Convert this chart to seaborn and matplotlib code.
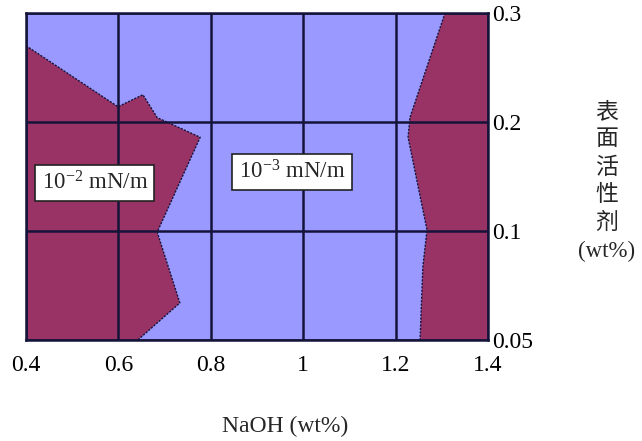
import matplotlib
matplotlib.use("Agg")
import matplotlib.pyplot as plt
import seaborn as sns
import pandas as pd

# ---- data ----
x_ticks = [0.4, 0.6, 0.8, 1.0, 1.2, 1.4]
x_tick_labels = ["0.4", "0.6", "0.8", "1", "1.2", "1.4"]
y_tick_labels = ["0.05", "0.1", "0.2", "0.3"]   # equally spaced categories
y_positions = [0, 1, 2, 3]

# left (10^-2 mN/m) region boundary: NaOH, surfactant position
left_x = [0.400, 0.599, 0.653, 0.684, 0.777, 0.684, 0.733, 0.642]
left_y = [2.70, 2.14, 2.25, 2.04, 1.86, 0.99, 0.34, 0.00]

# right region boundary
right_x = [1.307, 1.231, 1.227, 1.268, 1.259, 1.253]
right_y = [3.00, 2.04, 1.86, 1.01, 0.67, 0.00]

labels = ["10$^{-2}$ mN/m", "10$^{-3}$ mN/m"]
label_x = [0.549, 0.976]
label_y = [1.44, 1.54]

blue = "#9999FF"
maroon = "#993366"
dark = "#14143a"

sns.set_theme(style="white")
plt.rcParams["font.family"] = ["Liberation Serif", "Noto Sans CJK SC"]
plt.rcParams["mathtext.fontset"] = "custom"
plt.rcParams["mathtext.rm"] = "Liberation Serif"
plt.rcParams["mathtext.it"] = "Liberation Serif:italic"
plt.rcParams["mathtext.default"] = "regular"

fig = plt.figure(figsize=(6.42, 4.41), dpi=100)
ax = fig.add_axes([26 / 642, 1 - 340 / 441, (488 - 26) / 642, (340 - 13) / 441])
ax.set_facecolor(blue)
ax.set_xlim(0.4, 1.4)
ax.set_ylim(0, 3)

# left polygon
lx = left_x + [0.4]
ly = left_y + [0.0]
ax.fill(lx, ly, color=maroon, lw=0, zorder=1)
# right polygon
rx = right_x + [1.4, 1.4]
ry = right_y + [0.0, 3.0]
ax.fill(rx, ry, color=maroon, lw=0, zorder=1)

# boundaries
sns.lineplot(data=pd.DataFrame({"x": left_x, "y": left_y}), x="x", y="y", sort=False,
             estimator=None, ax=ax, color=dark, lw=1.0, linestyle=(0, (1.5, 1)), zorder=2)
sns.lineplot(data=pd.DataFrame({"x": right_x, "y": right_y}), x="x", y="y", sort=False,
             estimator=None, ax=ax, color=dark, lw=1.0, linestyle=(0, (1.5, 1)), zorder=2)

ax.set_xticks(x_ticks)
ax.set_xticklabels(x_tick_labels)
ax.set_yticks(y_positions)
ax.set_yticklabels(y_tick_labels)
ax.yaxis.tick_right()
ax.tick_params(axis="both", length=0, labelsize=17, colors="black")
ax.tick_params(axis="x", pad=11)
ax.tick_params(axis="y", pad=3)
ax.set_axisbelow(False)
ax.grid(True, color=dark, lw=1.8)
ax.set_xlabel("")
ax.set_ylabel("")
for s in ax.spines.values():
    s.set_visible(True)
    s.set_color(dark)
    s.set_linewidth(1.8)

for t, xx, yy in zip(labels, label_x, label_y):
    ax.text(xx, yy, t, ha="center", va="center", fontsize=16.5, zorder=5,
            bbox=dict(boxstyle="square,pad=0.28", fc="white", ec="#222222", lw=1.2))

fig.text(285 / 642, 1 - 426 / 441, "NaOH (wt%)", ha="center", va="center", fontsize=17)
fig.text(607 / 642, 1 - 182 / 441, "表\n面\n活\n性\n剂\n(wt%)", ha="center", va="center",
         fontsize=16.5, linespacing=1.42)

fig.savefig("out.png", dpi=100)
